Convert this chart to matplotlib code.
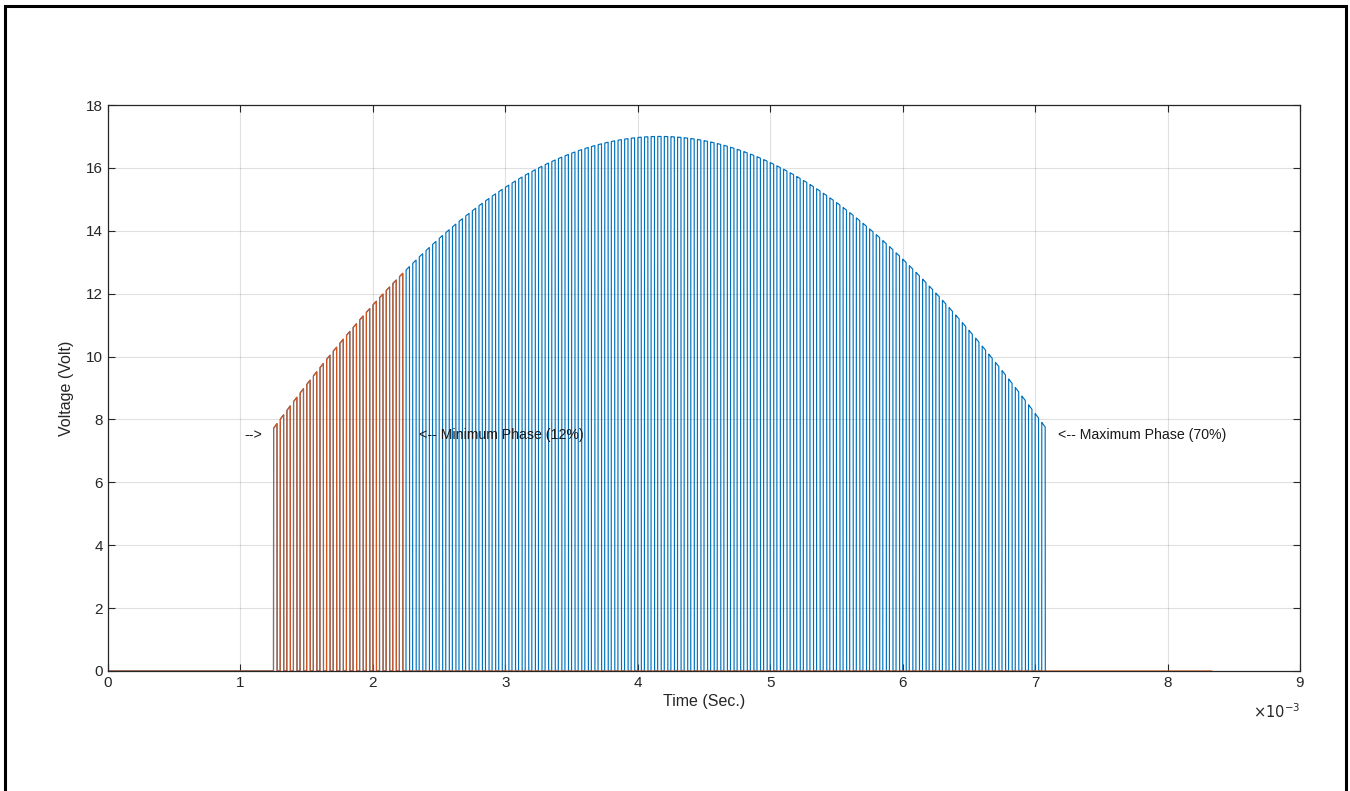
import numpy as np
import matplotlib.pyplot as plt
from matplotlib.patches import Rectangle

# waveform parameters
v_peak = 17.0            # peak of the rectified half-wave (Volt)
f_line = 60.0            # line frequency (Hz) -> half period 8.33 ms
f_sw = 20000.0           # chopping frequency (Hz)
on_time = 26e-6          # on part of each chopping period (s)
t_min_start = 1.25e-3    # start of conduction
t_min_end = 2.25e-3      # end of minimum phase window
t_max_end = 7.08e-3      # end of maximum phase window

x_ticks = [0, 1, 2, 3, 4, 5, 6, 7, 8, 9]
y_ticks = [0, 2, 4, 6, 8, 10, 12, 14, 16, 18]

dt = 0.5e-6
t = np.arange(0, 1 / (2 * f_line) + dt, dt)
env = v_peak * np.sin(2 * np.pi * f_line * t)
chop = (np.mod(t - t_min_start, 1 / f_sw) < on_time).astype(float)

v_max = np.where((t >= t_min_start) & (t <= t_max_end), env * chop, 0.0)
v_min = np.where((t >= t_min_start) & (t <= t_min_end), env * chop, 0.0)

blue = "#0072BD"
orange = "#D95319"
axcol = "#262626"

plt.rcParams['font.family'] = ['Liberation Sans', 'DejaVu Sans']

fig = plt.figure(figsize=(13.5, 7.91), dpi=100)
ax = fig.add_axes([108 / 1350, 1 - 671 / 791, 1192 / 1350, 566 / 791])

sel = t <= t_max_end + dt
ax.plot(t[sel], v_max[sel], color=blue, lw=0.85)
ax.plot(t, v_min, color=orange, lw=0.85)

ax.set_xlim(0, 9e-3)
ax.set_ylim(0, 18)
ax.set_xticks([x * 1e-3 for x in x_ticks])
ax.set_xticklabels([str(x) for x in x_ticks])
ax.set_yticks(y_ticks)
ax.grid(True, color="#000000", alpha=0.12, lw=0.8)
ax.tick_params(direction="in", length=5, top=True, right=True,
               colors=axcol, labelsize=11, labelcolor=axcol)
for s in ax.spines.values():
    s.set_color(axcol)
    s.set_linewidth(0.9)

ax.set_xlabel("Time (Sec.)", fontsize=11.5, color=axcol, labelpad=3)
ax.set_ylabel("Voltage (Volt)", fontsize=11.5, color=axcol, labelpad=9)
ax.text(1.0, -0.055, r"$\times10^{-3}$", transform=ax.transAxes,
        ha="right", va="top", fontsize=10.5, color=axcol)

ax.text(1.03e-3, 7.5, "-->", fontsize=10.2, color="#1a1a1a", va="center")
ax.text(2.35e-3, 7.5, "<-- Minimum Phase (12%)", fontsize=10.2, color="#1a1a1a", va="center")
ax.text(7.17e-3, 7.5, "<-- Maximum Phase (70%)", fontsize=10.2, color="#1a1a1a", va="center")

fig.patches.append(Rectangle((5 / 1350, -0.05), 1341 / 1350, 1.05 - 6 / 791,
                             transform=fig.transFigure, fill=False,
                             edgecolor="black", lw=2.2))

fig.savefig("out.png", dpi=100)
